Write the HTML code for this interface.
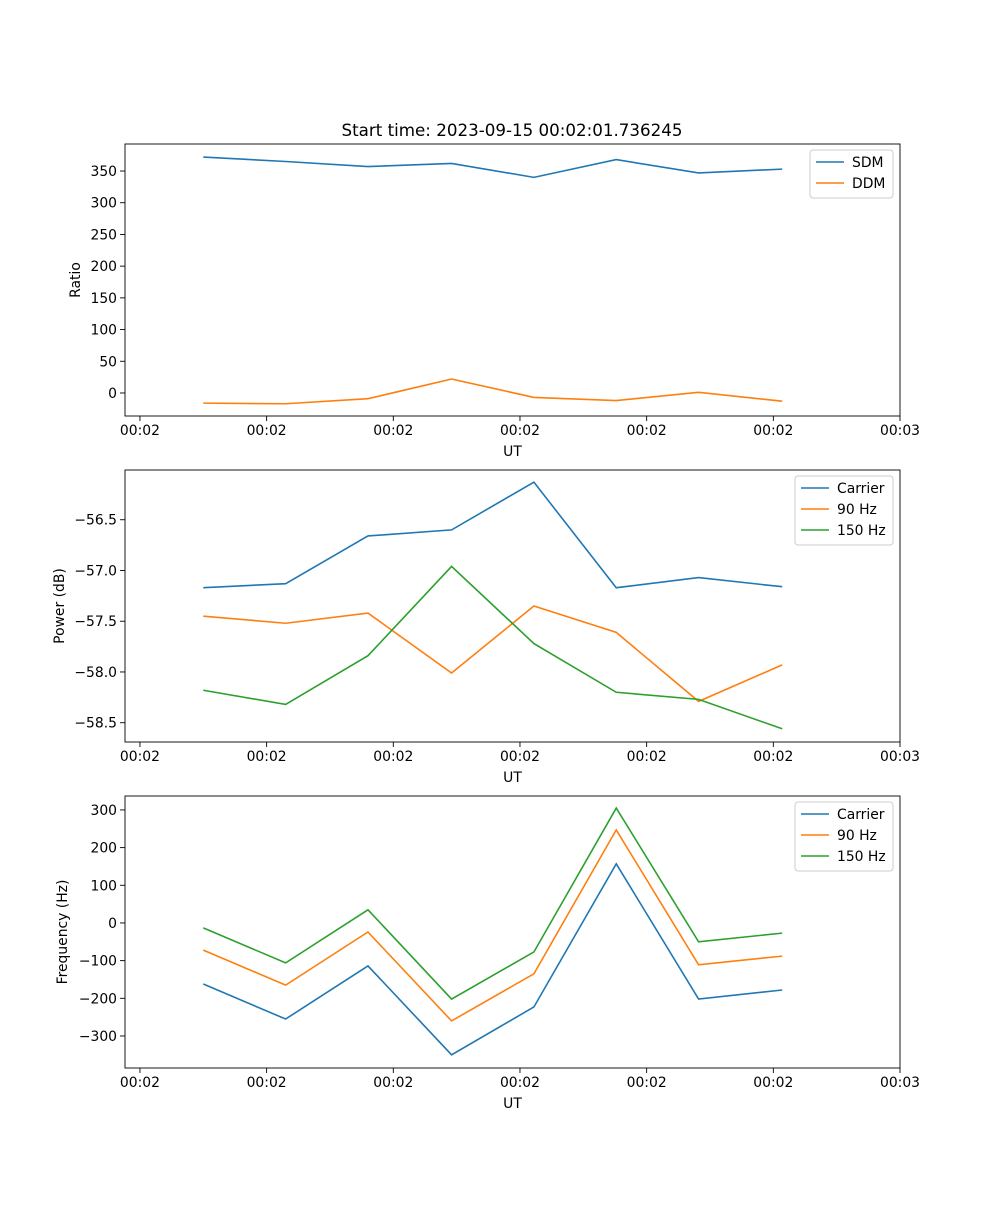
<!DOCTYPE html>
<html><head><meta charset="utf-8"><style>
body{margin:0;background:#fff}
svg text{font-family:"DejaVu Sans","Liberation Sans",sans-serif;font-size:13.9px;fill:#000}
</style></head><body>
<svg id="fig" width="1000" height="1200" xmlns="http://www.w3.org/2000/svg">
<text x="512" y="136" text-anchor="middle" style="font-size:16.7px">Start time: 2023-09-15 00:02:01.736245</text>
</svg>
<script>
const xTickVals=[0,1,2,3,4,5,6];
const xTickLabels=["00:02","00:02","00:02","00:02","00:02","00:02","00:03"];
const times=[0.5,1.15,1.8,2.46,3.11,3.76,4.41,5.07];
const sdm=[372,365,357,362,340,368,347,353];
const ddm=[-16,-17,-9,22,-7,-12,1,-13];
const powCarrier=[-57.17,-57.13,-56.66,-56.60,-56.13,-57.17,-57.07,-57.16];
const pow90=[-57.45,-57.52,-57.42,-58.01,-57.35,-57.61,-58.29,-57.93];
const pow150=[-58.18,-58.32,-57.84,-56.96,-57.72,-58.20,-58.27,-58.56];
const frqCarrier=[-162,-255,-114,-350,-223,157,-202,-178];
const frq90=[-72,-165,-24,-260,-135,247,-111,-88];
const frq150=[-13,-106,35,-202,-77,305,-50,-27];
const yTicks1=[0,50,100,150,200,250,300,350];
const yTicks2=[-58.5,-58.0,-57.5,-57.0,-56.5];
const yTickLabels2=["\u221258.5","\u221258.0","\u221257.5","\u221257.0","\u221256.5"];
const yTicks3=[-300,-200,-100,0,100,200,300];
const C=["#1f77b4","#ff7f0e","#2ca02c"];
const NS="http://www.w3.org/2000/svg";
const svg=document.getElementById('fig');
function mk(tag,attrs,parent,txt){const e=document.createElementNS(NS,tag);for(const k in attrs)e.setAttribute(k,attrs[k]);if(txt!==undefined)e.textContent=txt;(parent||svg).appendChild(e);return e;}
const L=125,R=900,xmin=-0.118,xmax=6.0;
function xs(v){return L+(v-xmin)/(xmax-xmin)*(R-L);}
function lab(n){return n<0?"\u2212"+Math.abs(n):String(n);}
function panel(id,top,bot,ymin,ymax,yt,ytl,ylabel,series,names,legW,ylabX){
  const g=mk('g',{});
  
  
  const ys=v=>bot-(v-ymin)/(ymax-ymin)*(bot-top);
  xTickVals.forEach((v,i)=>{const x=xs(v);
    const t=mk('line',{x1:x,x2:x,y1:bot,y2:bot+5,stroke:'#000','stroke-width':0.9},g);
    
    const tx=mk('text',{x:x,y:bot+19,'text-anchor':'middle'},g,xTickLabels[i]);
    });
  yt.forEach((v,i)=>{const y=ys(v);
    const t=mk('line',{x1:L-5,x2:L,y1:y,y2:y,stroke:'#000','stroke-width':0.9},g);
    
    const tx=mk('text',{x:L-8,y:y+5,'text-anchor':'end'},g,ytl?ytl[i]:lab(v));
    });
  series.forEach((s,k)=>{
    const p=mk('polyline',{points:s.map((v,i)=>xs(times[i])+','+ys(v)).join(' '),fill:'none',stroke:C[k],'stroke-width':1.6},g);
    
    });
  const fr=mk('rect',{x:L,y:top,width:R-L,height:bot-top,fill:'none',stroke:'#000','stroke-width':0.9},g);
  
  const xl=mk('text',{x:(L+R)/2,y:bot+40,'text-anchor':'middle'},g,'UT');
  
  const yl=mk('text',{x:ylabX,y:(top+bot)/2,'text-anchor':'middle',transform:'rotate(-90 '+ylabX+' '+(top+bot)/2+')'},g,ylabel);
  
  const lg=mk('g',{},g);
  
  const lx=R-7-legW,ly=top+6;
  mk('rect',{x:lx,y:ly,width:legW,height:names.length*21+6,rx:3,fill:'#fff',stroke:'#ccc','stroke-width':1},lg);
  names.forEach((n,k)=>{const y=ly+12+k*21;
    const e=mk('g',{},lg);
    
    mk('line',{x1:lx+6,x2:lx+34,y1:y,y2:y,stroke:C[k],'stroke-width':1.6},e);
    mk('text',{x:lx+42,y:y+5},e,n);});
}
panel('ratio-panel',144,416,-36.3,392.6,yTicks1,null,'Ratio',[sdm,ddm],['SDM','DDM'],83,80);
panel('power-panel',470,742,-58.69,-56.01,yTicks2,yTickLabels2,'Power (dB)',[powCarrier,pow90,pow150],['Carrier','90 Hz','150 Hz'],98,64);
panel('frequency-panel',796,1068,-385,337,yTicks3,null,'Frequency (Hz)',[frqCarrier,frq90,frq150],['Carrier','90 Hz','150 Hz'],98,67);
</script>
</body></html>
